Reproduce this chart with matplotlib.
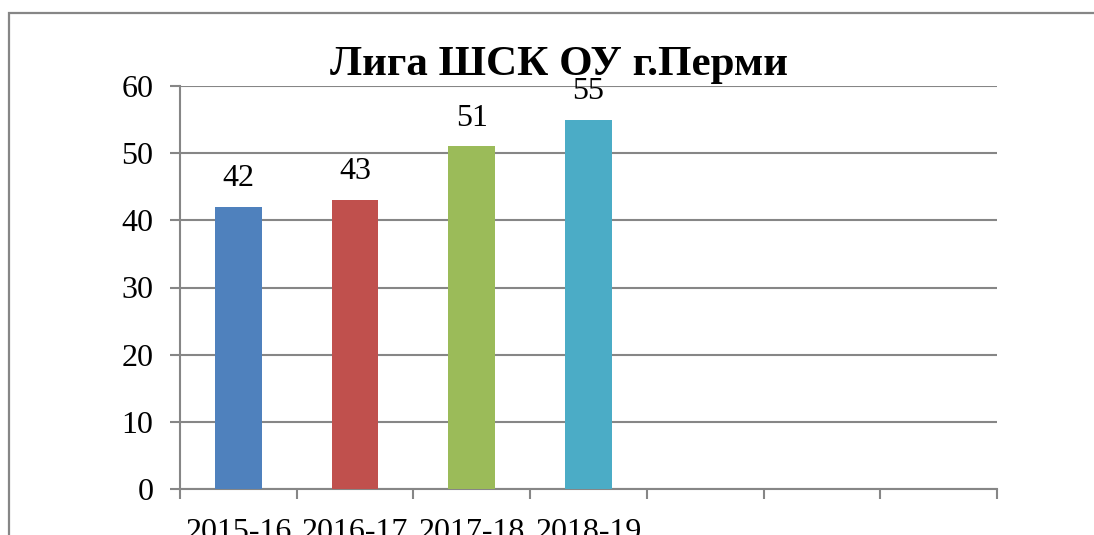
import matplotlib
matplotlib.use('Agg')
import matplotlib.pyplot as plt
from matplotlib.patches import Rectangle

# ── Data ──────────────────────────────────────────────────────────────────
seasons = ['2015-16', '2016-17', '2017-18', '2018-19', '', '', '']
values = [42, 43, 51, 55]
colors = ['#4F81BD', '#C0504D', '#9BBB59', '#4BACC6']
yticks = [0, 10, 20, 30, 40, 50, 60]
title = 'Лига ШСК ОУ г.Перми'

GRID = '#868686'
plt.rcParams['font.family'] = ['Liberation Serif', 'DejaVu Serif']

fig = plt.figure(figsize=(10.94, 5.35), dpi=100, facecolor='white')

# outer chart frame (runs off the right and bottom edges)
fig.patches.append(Rectangle((8.5 / 1094, -0.2), 1.2, 1.2 - 13 / 535,
                             transform=fig.transFigure, fill=False,
                             edgecolor=GRID, linewidth=1.6, zorder=0))

ax = fig.add_axes([180 / 1094, 1 - 489 / 535, 817 / 1094, 403 / 535])
x = list(range(len(values)))
ax.bar(x, values, width=0.40, color=colors, zorder=3)
for xi, v in zip(x, values):
    ax.annotate(str(v), (xi, v), xytext=(0, 10), textcoords='offset points',
                ha='center', va='bottom', fontsize=23)

ax.set_xlim(-0.5, len(seasons) - 0.5)
ax.set_ylim(0, 60)
ax.set_yticks(yticks)
ax.set_yticklabels([str(t) for t in yticks], fontsize=23)
ax.set_xticks(range(len(seasons)))
ax.set_xticklabels(seasons, fontsize=23)
ax.set_xticks([i - 0.5 for i in range(len(seasons) + 1)], minor=True)

ax.tick_params(axis='x', which='major', length=0, pad=21)
ax.tick_params(axis='x', which='minor', length=7, width=1.5, color=GRID)
ax.tick_params(axis='y', length=7, width=1.5, color=GRID, pad=12)

ax.yaxis.grid(True, color=GRID, linewidth=1.5, zorder=0)
ax.set_axisbelow(True)
for s in ['top', 'right']:
    ax.spines[s].set_visible(False)
for s in ['left', 'bottom']:
    ax.spines[s].set_color(GRID)
    ax.spines[s].set_linewidth(1.5)

fig.text(558.5 / 1094, 1 - 75 / 535, title, ha='center', va='baseline',
         fontsize=31, fontweight='bold')

fig.savefig('out.png', dpi=100, facecolor='white')
plt.close()
